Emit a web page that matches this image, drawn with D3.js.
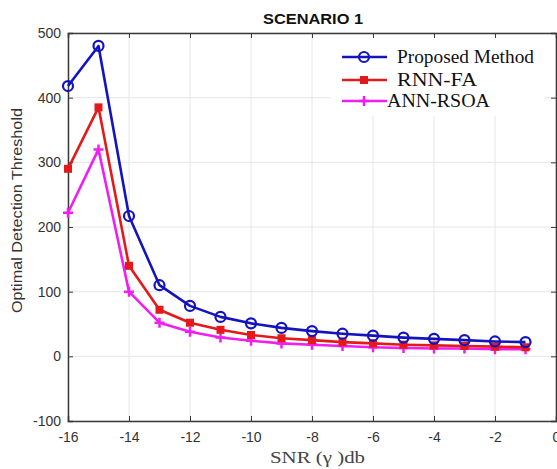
<!DOCTYPE html>
<html>
<head>
<meta charset="utf-8">
<script src="https://cdn.jsdelivr.net/npm/d3@7"></script>
<style>
  body { margin: 0; background: #fff; }
  svg { display: block; }
</style>
</head>
<body>
<div id="chart"></div>
<script>
// data
var snr = [-16, -15, -14, -13, -12, -11, -10, -9, -8, -7, -6, -5, -4, -3, -2, -1];
var proposed = [418, 480, 217, 110, 78, 61, 51, 44, 39, 35, 32, 29, 27, 25, 23, 22];
var rnnFa = [290, 385, 140, 72, 52, 41, 33, 28, 25, 22, 20, 18, 17, 16, 15, 14];
var annRsoa = [222, 320, 100, 52, 38, 29, 24, 20, 18, 16, 14, 13, 12, 12, 11, 11];
var xTicks = [-16, -14, -12, -10, -8, -6, -4, -2, 0];
var yTicks = [-100, 0, 100, 200, 300, 400, 500];
var seriesNames = ["Proposed Method", "RNN-FA", "ANN-RSOA"];

var width = 557, height = 469;
var margin = { top: 33, right: 1, bottom: 48, left: 68 };

var svg = d3.select("#chart").append("svg")
  .attr("width", width)
  .attr("height", height);

var x = d3.scaleLinear().domain([-16, 0]).range([margin.left, width - margin.right]);
var y = d3.scaleLinear().domain([-100, 500]).range([height - margin.bottom, margin.top]);

var series = [
  { name: seriesNames[0], values: proposed, color: "#1414be", marker: "circle" },
  { name: seriesNames[1], values: rnnFa, color: "#e41a1a", marker: "square" },
  { name: seriesNames[2], values: annRsoa, color: "#f01ef0", marker: "plus" }
];

var fmt = function(d) { return String(d); }; // plain hyphen, not unicode minus
var sans = "Arial, 'Liberation Sans', sans-serif";
var serif = "'Liberation Serif', 'Times New Roman', serif";

// grid
var grid = svg.append("g");
grid.selectAll("line.gx").data(xTicks).enter().append("line")
  .attr("x1", d => x(d)).attr("x2", d => x(d))
  .attr("y1", y(-100)).attr("y2", y(500))
  .attr("stroke", "#e6e6e6").attr("stroke-width", 1);
grid.selectAll("line.gy").data(yTicks).enter().append("line")
  .attr("x1", x(-16)).attr("x2", x(0))
  .attr("y1", d => y(d)).attr("y2", d => y(d))
  .attr("stroke", "#e6e6e6").attr("stroke-width", 1);

// legend background hides the grid under it
svg.append("rect").attr("x", 330).attr("y", 36).attr("width", 215).attr("height", 80).attr("fill", "#fff");

// axes, ticks point inward like matlab
var axisColor = "#3a3a3a";
svg.append("g")
  .attr("transform", "translate(0," + y(-100) + ")")
  .call(d3.axisBottom(x).tickValues(xTicks).tickSize(-5).tickPadding(11).tickFormat(fmt))
  .call(g => g.select(".domain").attr("stroke", axisColor).attr("stroke-width", 1.5))
  .call(g => g.selectAll(".tick line").attr("stroke", axisColor))
  .call(g => g.selectAll("text").attr("fill", "#333").style("font", "14px " + sans));

svg.append("g")
  .attr("transform", "translate(0," + y(500) + ")")
  .call(d3.axisTop(x).tickValues(xTicks).tickSize(-5).tickFormat(""))
  .call(g => g.select(".domain").attr("stroke", axisColor).attr("stroke-width", 1.5))
  .call(g => g.selectAll(".tick line").attr("stroke", axisColor));

svg.append("g")
  .attr("transform", "translate(" + x(-16) + ",0)")
  .call(d3.axisLeft(y).tickValues(yTicks).tickSize(-5).tickPadding(7).tickFormat(fmt))
  .call(g => g.select(".domain").attr("stroke", axisColor).attr("stroke-width", 1.5))
  .call(g => g.selectAll(".tick line").attr("stroke", axisColor))
  .call(g => g.selectAll("text").attr("fill", "#333").style("font", "14px " + sans));

svg.append("g")
  .attr("transform", "translate(" + x(0) + ",0)")
  .call(d3.axisRight(y).tickValues(yTicks).tickSize(-5).tickFormat(""))
  .call(g => g.select(".domain").attr("stroke", axisColor).attr("stroke-width", 1.5))
  .call(g => g.selectAll(".tick line").attr("stroke", axisColor));

// lines
var line = d3.line()
  .x((d, i) => x(snr[i]))
  .y(d => y(d));

function drawMarker(g, type, color, cx, cy) {
  if (type === "circle") {
    g.append("circle").attr("cx", cx).attr("cy", cy).attr("r", 5)
      .attr("fill", "none").attr("stroke", color).attr("stroke-width", 2.2);
  } else if (type === "square") {
    g.append("rect").attr("x", cx - 4).attr("y", cy - 4).attr("width", 8).attr("height", 8)
      .attr("fill", color);
  } else {
    g.append("path").attr("d", "M" + (cx - 5) + "," + cy + "H" + (cx + 5) + "M" + cx + "," + (cy - 5) + "V" + (cy + 5))
      .attr("stroke", color).attr("stroke-width", 2.5);
  }
}

// draw bottom series first
series.slice().reverse().forEach(function(s) {
  var g = svg.append("g");
  g.append("path")
    .datum(s.values)
    .attr("fill", "none")
    .attr("stroke", s.color)
    .attr("stroke-width", 2.6)
    .attr("stroke-linejoin", "round")
    .attr("d", line);
  s.values.forEach(function(v, i) {
    drawMarker(g, s.marker, s.color, x(snr[i]), y(v));
  });
});

// legend
var legendRows = [57, 80, 101];
var legendText = [{ x: 397, w: 137 }, { x: 397, w: 80 }, { x: 387, w: 103 }];
var legend = svg.append("g");
series.forEach(function(s, i) {
  var ly = legendRows[i];
  legend.append("line").attr("x1", 342).attr("x2", 387).attr("y1", ly).attr("y2", ly)
    .attr("stroke", s.color).attr("stroke-width", 2.6);
  drawMarker(legend, s.marker, s.color, 364, ly);
  legend.append("text")
    .attr("x", legendText[i].x).attr("y", ly + 6)
    .attr("textLength", legendText[i].w)
    .attr("lengthAdjust", "spacingAndGlyphs")
    .style("font", "18px " + serif)
    .attr("fill", "#111")
    .text(s.name);
});

// title and labels
svg.append("text")
  .attr("x", 263).attr("y", 24)
  .attr("textLength", 100)
  .attr("lengthAdjust", "spacingAndGlyphs")
  .style("font", "bold 15px " + sans)
  .attr("fill", "#111")
  .text("SCENARIO 1");

svg.append("text")
  .attr("transform", "translate(22,313) rotate(-90)")
  .attr("textLength", 205)
  .attr("lengthAdjust", "spacingAndGlyphs")
  .style("font", "15px " + sans)
  .attr("fill", "#333")
  .text("Optimal Detection Threshold");

svg.append("text")
  .attr("x", 270).attr("y", 463)
  .attr("textLength", 95)
  .attr("lengthAdjust", "spacingAndGlyphs")
  .style("font", "17px " + serif)
  .attr("fill", "#444")
  .text("SNR (γ )db");
</script>
</body>
</html>
